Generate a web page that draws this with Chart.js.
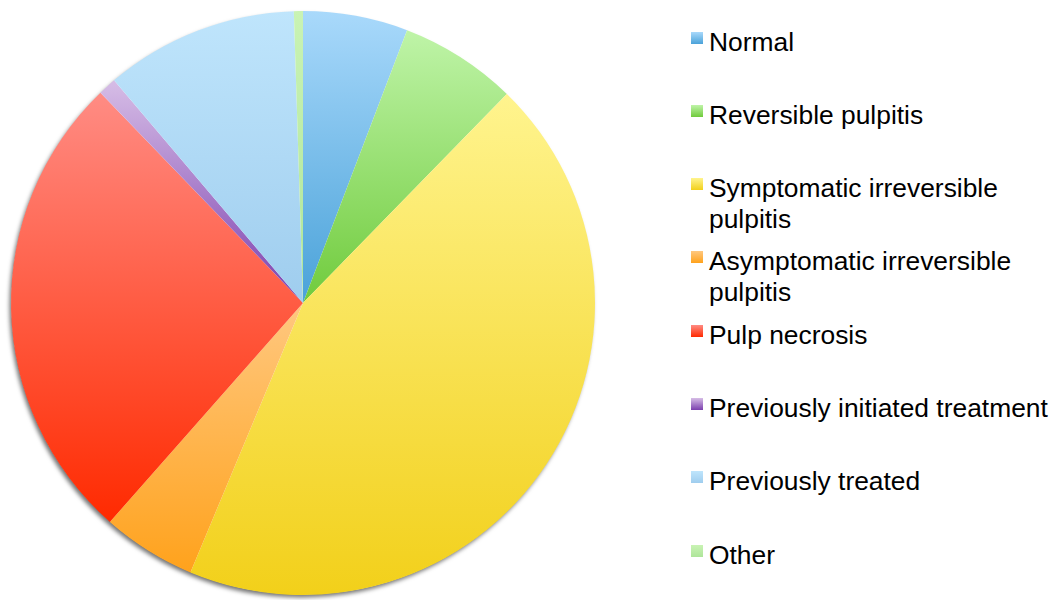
<!DOCTYPE html>
<html>
<head>
<meta charset="utf-8">
<script src="https://cdn.jsdelivr.net/npm/chart.js@4.4.1/dist/chart.umd.min.js"></script>
<style>
    body { margin: 0; background: #fff; width: 1056px; height: 600px; overflow: hidden; position: relative; font-family: 'Liberation Sans', Arial, sans-serif; }
    #wrap { position: absolute; left: 0; top: 0; width: 606px; height: 600px; }
    #legend { position: absolute; left: 0; top: 0; }
    .item { position: absolute; left: 691px; width: 365px; font-size: 26.4px; line-height: 31px; color: #000; }
    .swatch { position: absolute; left: 0; top: 5px; width: 12px; height: 12px; }
    .label { position: absolute; left: 18px; top: 0; width: 347px; }
</style>
</head>
<body>
<div id="wrap"><canvas id="pie"></canvas></div>
<div id="legend"></div>
<script>
const labels = ['Normal', 'Reversible pulpitis', 'Symptomatic irreversible pulpitis', 'Asymptomatic irreversible pulpitis', 'Pulp necrosis', 'Previously initiated treatment', 'Previously treated', 'Other'];
const values = [5.8, 6.5, 44.0, 5.2, 26.3, 1.0, 10.7, 0.5];
const colorTop = ['#a9d9fb', '#bff4a8', '#fff48e', '#ffc880', '#ff8c84', '#d6bde6', '#bfe5fc', '#c9f3b4'];
const colorBottom = ['#4aa2d9', '#70cb3c', '#f2d01a', '#ffa21c', '#ff2a00', '#7b3fae', '#9fcdee', '#aee59a'];

document.addEventListener('DOMContentLoaded', () => {
    const total = values.reduce((s, v) => s + v, 0);

    // vertical extent of a slice, angles clockwise from 12 o'clock
    const sliceRange = (i, cy, r) => {
        const before = values.slice(0, i).reduce((s, v) => s + v, 0);
        const a0 = before / total * Math.PI * 2;
        const a1 = (before + values[i]) / total * Math.PI * 2;
        const ys = [cy, cy - r * Math.cos(a0), cy - r * Math.cos(a1)];
        if (a0 <= 0) ys.push(cy - r);
        if (a0 <= Math.PI && a1 >= Math.PI) ys.push(cy + r);
        return [Math.min(...ys), Math.max(...ys)];
    };

    const sliceFill = (context) => {
        const chart = context.chart;
        const area = chart.chartArea;
        const i = context.dataIndex;
        if (!area) return colorBottom[i];
        const cy = (area.top + area.bottom) / 2;
        const r = Math.min(area.right - area.left, area.bottom - area.top) / 2;
        const [y0, y1] = sliceRange(i, cy, r);
        const g = chart.ctx.createLinearGradient(0, y0, 0, Math.max(y1, y0 + 1));
        g.addColorStop(0, colorTop[i]);
        g.addColorStop(1, colorBottom[i]);
        return g;
    };

    // soft drop shadow under the pie
    const pieShadow = {
        id: 'pieShadow',
        beforeDatasetsDraw(chart) {
            const arc = chart.getDatasetMeta(0).data[0];
            if (!arc) return;
            const ctx = chart.ctx;
            ctx.save();
            ctx.shadowColor = 'rgba(0, 0, 0, 0.55)';
            ctx.shadowBlur = 4;
            ctx.shadowOffsetX = -2;
            ctx.shadowOffsetY = 3;
            ctx.fillStyle = '#ffffff';
            ctx.beginPath();
            ctx.arc(arc.x, arc.y, arc.outerRadius - 0.5, 0, Math.PI * 2);
            ctx.fill();
            ctx.restore();
        }
    };

    new Chart(document.getElementById('pie').getContext('2d'), {
        type: 'pie',
        data: {
            labels: labels,
            datasets: [{
                data: values,
                backgroundColor: sliceFill,
                borderWidth: 0,
                hoverOffset: 0,
                offset: 0
            }]
        },
        options: {
            responsive: true,
            maintainAspectRatio: false,
            animation: false,
            layout: { padding: { top: 11, bottom: 5, left: 11, right: 11 } },
            plugins: {
                legend: { display: false },
                tooltip: { enabled: false }
            }
        },
        plugins: [pieShadow]
    });

    // Legend
    const legendEl = document.getElementById('legend');
    labels.forEach((name, idx) => {
        const item = document.createElement('div');
        item.className = 'item';
        item.style.top = (26.5 + idx * 73.3) + 'px';
        item.innerHTML = `
            <div class="swatch" style="background: linear-gradient(${colorTop[idx]}, ${colorBottom[idx]});"></div>
            <div class="label">${name}</div>
        `;
        legendEl.appendChild(item);
    });
});
</script>
</body>
</html>
